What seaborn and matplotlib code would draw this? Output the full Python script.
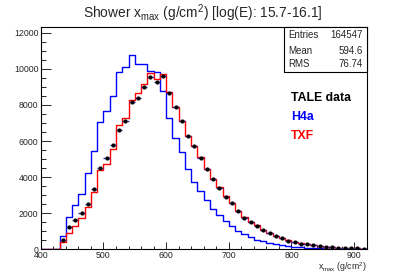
import numpy as np
import pandas as pd
import matplotlib
matplotlib.use('Agg')
import matplotlib.pyplot as plt
import matplotlib.patches as patches
from matplotlib.ticker import MultipleLocator
import seaborn as sns

# Histogram data (10 g/cm2 bins, lower edges 400..910)
bin_low = list(range(400, 920, 10))

h4a = [0, 0, 0, 740, 1800, 2450, 3080, 4250, 5470, 7030,
       7640, 8510, 9810, 10110, 10740, 10280, 10250, 9880, 9820, 8750,
       7270, 6180, 5370, 4470, 3744, 3227, 2726, 2225, 1891, 1558,
       1280, 1018, 834, 686, 538, 445, 360, 297, 222, 170,
       130, 105, 80, 62, 48, 36, 28, 20, 15, 11,
       8, 6]

txf = [0, 0, 0, 380, 930, 1270, 1730, 2330, 3150, 4400,
       4750, 5550, 6900, 7290, 8300, 8680, 9150, 9750, 9430, 9700,
       8700, 7880, 7110, 6270, 5730, 5090, 4470, 3900, 3440, 2980,
       2570, 2130, 1780, 1540, 1320, 1080, 920, 750, 640, 500,
       420, 330, 285, 230, 175, 140, 115, 95, 75, 58,
       50, 38]

tale = [0, 0, 0, 540, 1215, 1605, 1984, 2485, 3365, 4505,
        5080, 5790, 6620, 7120, 8150, 8360, 8985, 9540, 9253, 9605,
        8680, 7860, 7100, 6266, 5730, 5070, 4450, 3885, 3420, 2910,
        2558, 2095, 1750, 1520, 1298, 1075, 900, 730, 630, 480,
        407, 315, 278, 222, 167, 130, 111, 93, 74, 55,
        50, 37]

stats_labels = ['Entries', 'Mean', 'RMS']
stats_values = ['164547', '594.6', '76.74']

sns.set_style('white')
plt.rcParams['font.family'] = ['Liberation Sans', 'DejaVu Sans']
plt.rcParams['mathtext.fontset'] = 'custom'
plt.rcParams['mathtext.rm'] = 'Liberation Sans'
plt.rcParams['mathtext.it'] = 'Liberation Sans:italic'

df = pd.DataFrame({'center': np.array(bin_low, dtype=float) + 5,
                   'h4a': h4a, 'txf': txf, 'tale': tale})

fig = plt.figure(figsize=(4.07, 2.77), dpi=100)
ax = fig.add_axes([0.1002, 0.1, 0.8007, 0.8014])

sns.histplot(data=df, x='center', weights='h4a', binwidth=10, binrange=(400, 920),
             element='step', fill=False, color='#0000ff', linewidth=1.0, ax=ax)
sns.histplot(data=df, x='center', weights='txf', binwidth=10, binrange=(400, 920),
             element='step', fill=False, color='#ff0000', linewidth=1.0, ax=ax)

# TALE data points with half-bin horizontal bars
pts = df[df['tale'] > 0]
ax.errorbar(pts['center'], pts['tale'], xerr=5, fmt='o', ms=2.0, color='black',
            ecolor='#3333aa', elinewidth=1.0, capsize=0, zorder=5)

ax.set_xlim(400, 920)
ax.set_ylim(0, 12300)
ax.set_xlabel('')
ax.set_ylabel('')

ax.xaxis.set_major_locator(MultipleLocator(100))
ax.xaxis.set_minor_locator(MultipleLocator(20))
ax.yaxis.set_major_locator(MultipleLocator(2000))
ax.yaxis.set_minor_locator(MultipleLocator(500))
ax.tick_params(axis='x', which='major', direction='in', length=4.8, width=0.7,
               labelsize=6.3, pad=1.5, bottom=True, top=False)
ax.tick_params(axis='x', which='minor', direction='in', length=2.4, width=0.7,
               bottom=True, top=False)
ax.tick_params(axis='y', which='major', direction='in', length=7, width=0.7,
               labelsize=6.3, pad=1.8, left=True, right=False)
ax.tick_params(axis='y', which='minor', direction='in', length=3.5, width=0.7,
               left=True, right=False)
for s in ax.spines.values():
    s.set_color('black')
    s.set_linewidth(0.8)

fig.text(0.4988, 0.952, r'Shower x$_{\mathrm{max}}$ (g/cm$^{2}$) [log(E): 15.7-16.1]',
         ha='center', va='center', fontsize=9.9)
fig.text(0.901, 0.036, r'x$_{\mathrm{max}}$ (g/cm$^{2}$)', ha='right', va='center',
         fontsize=6.3)

# stats box
box = patches.Rectangle((0.6978, 0.7412), 0.901 - 0.6978, 0.9014 - 0.7412,
                        transform=fig.transFigure, facecolor='white',
                        edgecolor='black', linewidth=0.8, zorder=10)
fig.patches.append(box)
row_y = [0.8736, 0.817, 0.7679]
for lab, val, yy in zip(stats_labels, stats_values, row_y):
    fig.text(0.7084, yy, lab, ha='left', va='center', fontsize=7, zorder=11)
    fig.text(0.8912, yy, val, ha='right', va='center', fontsize=7, zorder=11)

fig.text(0.7143, 0.6473, 'TALE data', color='black', fontweight='bold',
         ha='left', va='center', fontsize=8.8)
fig.text(0.7143, 0.5787, 'H4a', color='#0000ff', fontweight='bold',
         ha='left', va='center', fontsize=8.8)
fig.text(0.7143, 0.509, 'TXF', color='#ff0000', fontweight='bold',
         ha='left', va='center', fontsize=8.8)

fig.savefig('out.png', dpi=100)
